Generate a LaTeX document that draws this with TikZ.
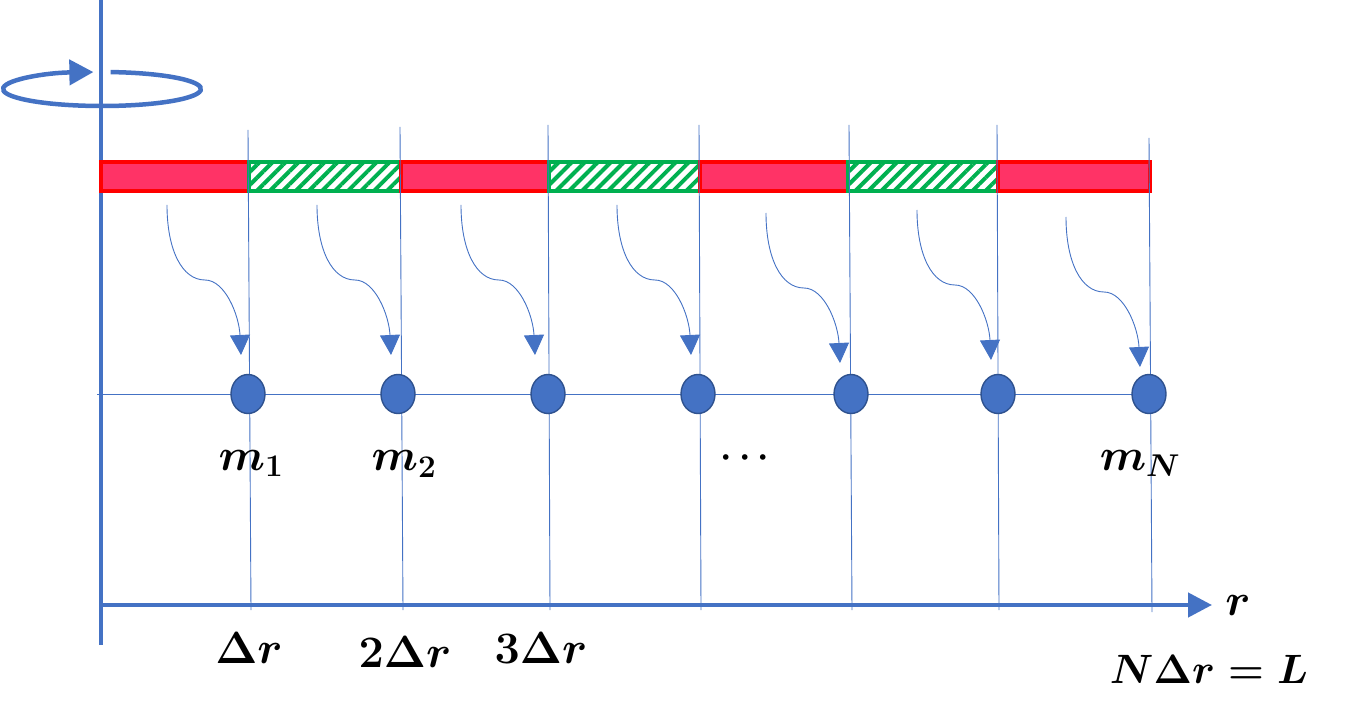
\RequirePackage{fix-cm}
\documentclass[tikz,border=0pt]{standalone}
\usetikzlibrary{arrows.meta,patterns.meta,shapes.geometric}
\definecolor{axisblue}{HTML}{4472C4}
\definecolor{dotedge}{HTML}{2F528F}
\definecolor{barred}{HTML}{FF3366}
\definecolor{barborder}{HTML}{FF0000}
\definecolor{bargreen}{HTML}{00B050}
\tikzset{
  axisline/.style={draw=axisblue, line width=4.5pt},
  gridline/.style={draw=axisblue, line width=0.9pt},
  redseg/.style={draw=barborder, fill=barred, line width=4pt},
  greenseg/.style={draw=bargreen, line width=4pt, fill=white,
    pattern={Lines[angle=45,distance=9.2pt,line width=4pt]}, pattern color=bargreen},
  mass/.style={ellipse, draw=dotedge, fill=axisblue, line width=1.4pt,
    minimum width=34pt, minimum height=39pt, inner sep=0pt},
  flow/.style={draw=axisblue, line width=0.9pt, -{Triangle[length=20pt,width=20pt]}},
  lab/.style={font=\fontsize{45}{50}\selectfont\boldmath, inner sep=0pt, anchor=base},
}
\begin{document}
\begin{tikzpicture}[x=1pt,y=-1pt]
\useasboundingbox (0,0) rectangle (1347,708);

% axes
\coordinate (ytop) at (101,0);
\coordinate (ybot) at (101,645);
\coordinate (origin) at (101,605);
\coordinate (xend) at (1212,605);
\draw[axisline] (ybot) -- (ytop);
\draw[axisline, -{Triangle[length=24pt,width=24pt]}] (origin) -- (xend);

% rotation symbol
\coordinate (rotc) at (102,89);
\draw[axisline, -{Triangle[length=24pt,width=25pt]}]
  (rotc) ++(-85:99 and 17) arc[start angle=-85, end angle=265, x radius=99, y radius=17];

% bar segments
\draw[redseg]   (101,162) rectangle (249,191);
\draw[greenseg] (249,162) rectangle (401,191);
\draw[redseg]   (401,162) rectangle (549,191);
\draw[greenseg] (549,162) rectangle (700,191);
\draw[redseg]   (700,162) rectangle (848,191);
\draw[greenseg] (848,162) rectangle (998,191);
\draw[redseg]   (998,162) rectangle (1150,191);

% grid lines
\foreach \i/\xt/\yt/\xb/\yb in {1/248/130/251/610, 2/400/127/403/610, 3/548/125/550/610,
  4/699/125/701/610, 5/849/125/852/610, 6/997/125/999/610, 7/1149/138/1152/612}{
  \coordinate (gt\i) at (\xt,\yt);
  \coordinate (gb\i) at (\xb,\yb);
  \draw[gridline] (gt\i) -- (gb\i);
}
\coordinate (hstart) at (97,394);
\coordinate (hend) at (1149,394);
\draw[gridline] (hstart) -- (hend);

% masses
\foreach \i/\x in {1/248, 2/398, 3/548, 4/698, 5/851, 6/998, 7/1149}{
  \node[mass] (m\i) at (\x,394) {};
}

% curved arrows
\foreach \i/\x/\y in {1/167/205, 2/317/205, 3/461/205, 4/617/205, 5/766/213, 6/917/210, 7/1066/217}{
  \coordinate (s\i) at (\x,\y);
  \draw[flow] (s\i) .. controls +(0,45) and +(-23,0) .. ++(38,75)
                    .. controls +(20,0) and +(-2,-40) .. ++(36,75);
}

% labels
\node[lab] (l1) at (251,470) {$m_1$};
\node[lab] (l2) at (404,471) {$m_2$};
\node[lab, font=\fontsize{36}{40}\selectfont\boldmath] (ldots) at (745,466) {$\cdots$};
\node[lab] (lN) at (1140,470) {$m_N$};
\node[lab] (d1) at (249,663) {$\Delta r$};
\node[lab] (d2) at (405,667) {$2\Delta r$};
\node[lab] (d3) at (541,663) {$3\Delta r$};
\node[lab, font=\fontsize{41}{48}\selectfont\boldmath] (dN) at (1209,683) {$N\Delta r = L$};
\node[lab] (lr) at (1238,615) {$r$};
\end{tikzpicture}
\end{document}
